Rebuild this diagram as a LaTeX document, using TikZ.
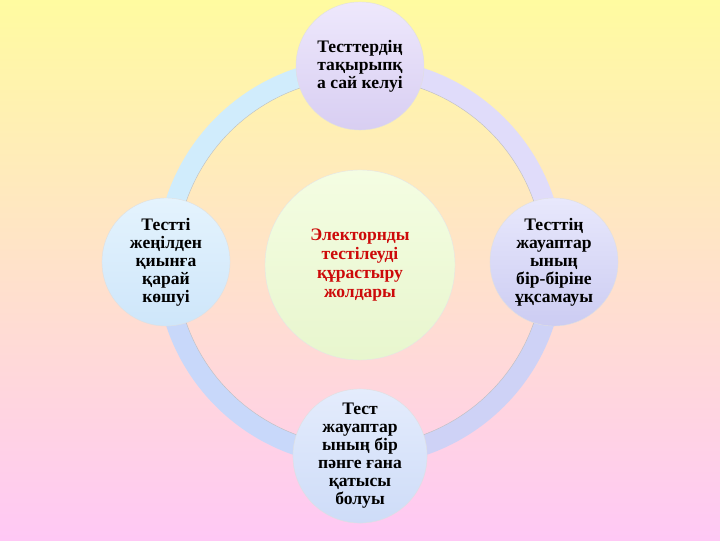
\documentclass[tikz,border=0pt]{standalone}
\usepackage{fontspec}
\setmainfont{Liberation Serif}
\usetikzlibrary{calc, positioning}

\definecolor{bgtop}{RGB}{255,251,160}
\definecolor{bgmid}{RGB}{255,226,200}
\definecolor{bgbot}{RGB}{255,200,245}
\definecolor{ringtl}{RGB}{208,236,252}
\definecolor{ringtr}{RGB}{224,220,250}
\definecolor{ringbr}{RGB}{206,210,246}
\definecolor{ringbl}{RGB}{200,216,250}
\definecolor{hubred}{RGB}{205,10,10}

\begin{document}
\begin{tikzpicture}[x=0.025cm, y=0.025cm,
    leaf/.style={circle, minimum size=3.2cm, inner sep=0pt, align=center,
        draw=black!12, line width=0.3pt,
        font=\fontsize{12.5}{12.8}\selectfont\bfseries},
    hub/.style={circle, minimum size=4.75cm, inner sep=0pt, align=center,
        draw=black!10, line width=0.3pt, text=hubred,
        font=\fontsize{12.5}{13.4}\selectfont\bfseries},
    band/.style={line width=0.5cm}]

    % Background
    \shade[top color=bgtop, middle color=bgmid, bottom color=bgbot] (0,0) rectangle (720,540);
    \useasboundingbox (0,0) rectangle (720,540);

    % Ring
    \coordinate (ring) at (360,278);
    \draw[band, ringtr] ($(ring)+(0:194)$) arc[start angle=0, end angle=90, radius=194];
    \draw[band, ringtl] ($(ring)+(90:194)$) arc[start angle=90, end angle=180, radius=194];
    \draw[band, ringbl] ($(ring)+(180:194)$) arc[start angle=180, end angle=270, radius=194];
    \draw[band, ringbr] ($(ring)+(270:194)$) arc[start angle=270, end angle=360, radius=194];
    \draw[black!25, line width=0.3pt] (ring) circle[radius=184];

    % Centre
    \node[hub, top color={rgb,255:red,244;green,253;blue,226}, bottom color={rgb,255:red,232;green,246;blue,206}]
        (hub) at (360,275) {Электорнды\\тестілеуді\\құрастыру\\жолдары};

    % Circles on the ring
    \node[leaf, top color={rgb,255:red,238;green,232;blue,252}, bottom color={rgb,255:red,216;green,206;blue,242}]
        (topic) at ($(ring)+(90:196)$) {Тесттердің\\тақырыпқ\\а сай келуі};
    \node[leaf, top color={rgb,255:red,232;green,232;blue,252}, bottom color={rgb,255:red,204;green,204;blue,242}]
        (unlike) at ($(ring)+(0:194)$) {Тесттің\\жауаптар\\ының\\бір-біріне\\ұқсамауы};
    \node[leaf, top color={rgb,255:red,228;green,236;blue,252}, bottom color={rgb,255:red,206;green,220;blue,248}]
        (subject) at ($(ring)+(270:194)$) {Тест\\жауаптар\\ының бір\\пәнге ғана\\қатысы\\болуы};
    \node[leaf, top color={rgb,255:red,228;green,243;blue,253}, bottom color={rgb,255:red,206;green,230;blue,250}]
        (order) at ($(ring)+(180:194)$) {Тестті\\жеңілден\\қиынға\\қарай\\көшуі};

\end{tikzpicture}
\end{document}
